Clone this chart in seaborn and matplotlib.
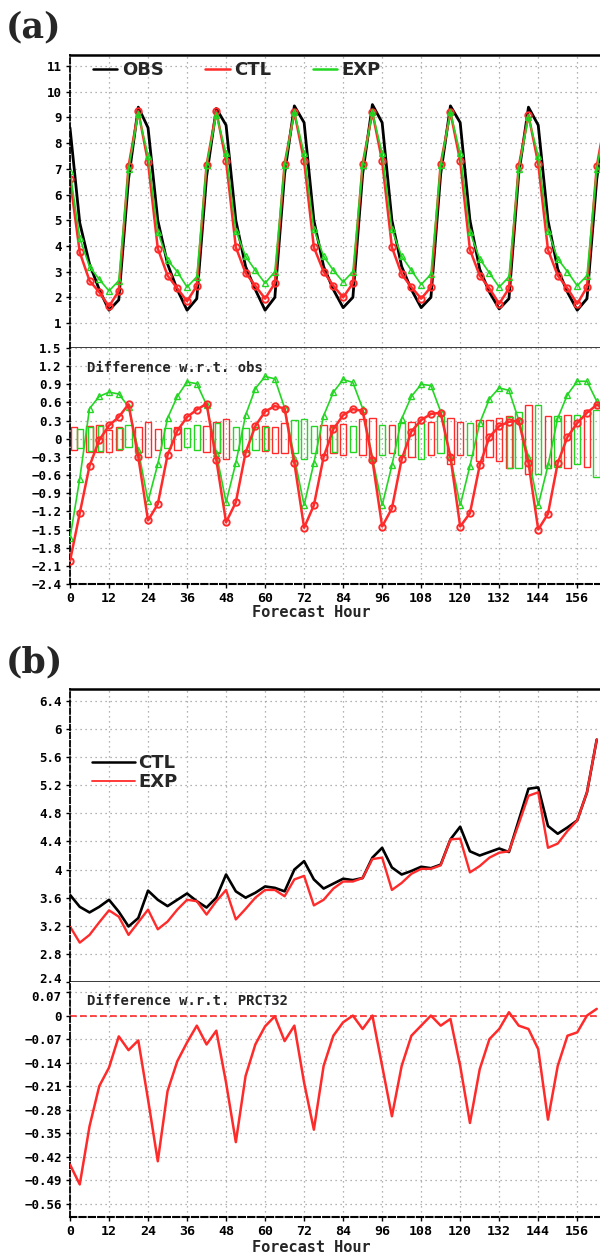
import numpy as np
import pandas as pd
import matplotlib
matplotlib.use("Agg")
import matplotlib.pyplot as plt
from matplotlib.lines import Line2D
from matplotlib.transforms import ScaledTranslation
import seaborn as sns

# ---------------- data: panel (a) ----------------
hours_a = list(range(0, 166, 3))  # 0..165
obs = [8.6, 4.9, 3.3, 2.3, 1.5, 1.9, 6.6, 9.4,
       8.6, 5.0, 3.3, 2.3, 1.5, 1.95, 6.7, 9.35,
       8.7, 5.0, 3.2, 2.3, 1.5, 2.0, 6.8, 9.45,
       8.8, 5.0, 3.2, 2.3, 1.6, 2.0, 6.8, 9.5,
       8.8, 5.0, 3.2, 2.3, 1.6, 2.0, 6.8, 9.45,
       8.8, 5.0, 3.1, 2.2, 1.55, 1.95, 6.8, 9.4,
       8.7, 5.0, 3.1, 2.2, 1.5, 1.95, 6.6, 9.4]
ctl = [6.6, 3.75, 2.65, 2.2, 1.65, 2.25, 7.1, 9.25,
       7.25, 3.9, 2.85, 2.35, 1.85, 2.45, 7.15, 9.25,
       7.3, 3.95, 2.95, 2.45, 1.95, 2.55, 7.2, 9.2,
       7.3, 3.95, 3.0, 2.45, 2.0, 2.55, 7.2, 9.2,
       7.3, 3.95, 2.9, 2.4, 1.95, 2.4, 7.2, 9.2,
       7.3, 3.85, 2.85, 2.35, 1.75, 2.35, 7.1, 9.1,
       7.2, 3.85, 2.85, 2.35, 1.75, 2.4, 7.1, 9.2]
exp = [6.9, 4.3, 3.2, 2.7, 2.25, 2.65, 7.0, 9.15,
       7.5, 4.55, 3.45, 3.0, 2.4, 2.8, 7.15, 9.1,
       7.6, 4.6, 3.6, 3.05, 2.55, 3.0, 7.15, 9.2,
       7.6, 4.65, 3.6, 3.05, 2.6, 3.0, 7.15, 9.2,
       7.6, 4.65, 3.6, 3.05, 2.5, 2.9, 7.15, 9.2,
       7.6, 4.55, 3.5, 2.95, 2.4, 2.8, 7.0, 9.0,
       7.5, 4.6, 3.5, 3.0, 2.45, 2.85, 7.0, 9.1]
diff_ctl = [-2.02, -1.23, -0.45, -0.02, 0.22, 0.36, 0.57, -0.3,
            -1.35, -1.08, -0.27, 0.13, 0.36, 0.48, 0.58, -0.35,
            -1.38, -1.05, -0.23, 0.21, 0.45, 0.54, 0.5, -0.4,
            -1.47, -1.1, -0.3, 0.16, 0.39, 0.49, 0.46, -0.35,
            -1.45, -1.15, -0.34, 0.12, 0.31, 0.41, 0.43, -0.3,
            -1.45, -1.23, -0.44, 0.03, 0.21, 0.28, 0.3, -0.4,
            -1.5, -1.24, -0.4, 0.03, 0.26, 0.43, 0.56, 0.5]
diff_exp = [-1.64, -0.66, 0.5, 0.7, 0.77, 0.74, 0.53, -0.19,
            -1.03, -0.42, 0.34, 0.7, 0.94, 0.91, 0.56, -0.24,
            -1.05, -0.4, 0.39, 0.83, 1.03, 0.99, 0.51, -0.31,
            -1.1, -0.4, 0.38, 0.77, 0.98, 0.93, 0.5, -0.32,
            -1.1, -0.44, 0.33, 0.7, 0.9, 0.88, 0.45, -0.3,
            -1.1, -0.45, 0.26, 0.66, 0.84, 0.8, 0.31, -0.3,
            -1.1, -0.44, 0.34, 0.73, 0.95, 0.95, 0.62, 0.3]

# hollow boxes around zero (one per 3-h step)
box_x = [1.2] + list(range(3, 163, 3))
box_hi = [0.19, 0.16, 0.21, 0.23, 0.14, 0.19, 0.23, 0.19, 0.28, 0.16, 0.17, 0.19,
          0.17, 0.23, 0.21, 0.28, 0.33, 0.19, 0.17, 0.19, 0.21, 0.19, 0.26, 0.31,
          0.33, 0.21, 0.23, 0.23, 0.24, 0.21, 0.33, 0.35, 0.23, 0.23, 0.26, 0.28,
          0.26, 0.28, 0.38, 0.34, 0.28, 0.26, 0.31, 0.31, 0.34, 0.37, 0.45, 0.56,
          0.56, 0.38, 0.37, 0.39, 0.39, 0.48, 0.47]
box_lo = [-0.18, -0.16, -0.22, -0.22, -0.22, -0.19, -0.13, -0.22, -0.3, -0.18, -0.16, -0.19,
          -0.14, -0.19, -0.22, -0.24, -0.34, -0.19, -0.22, -0.19, -0.2, -0.24, -0.24, -0.24,
          -0.34, -0.23, -0.27, -0.24, -0.26, -0.22, -0.27, -0.37, -0.27, -0.24, -0.27, -0.3,
          -0.33, -0.27, -0.24, -0.41, -0.27, -0.27, -0.36, -0.3, -0.36, -0.49, -0.49, -0.58,
          -0.58, -0.49, -0.47, -0.49, -0.41, -0.47, -0.63]
box_col = "rgbbrbgrrrgrggrbrgggbrrg" + "ggrbrgrrgrgrgrgrrgrrrbgrgrgrgrg"

# ---------------- data: panel (b) ----------------
hours_b = list(range(0, 163, 3))  # 0..162
ctl_b = [3.64, 3.47, 3.39, 3.47, 3.57, 3.4, 3.19, 3.31,
         3.7, 3.57, 3.48, 3.57, 3.66, 3.55, 3.46, 3.6,
         3.93, 3.69, 3.6, 3.67, 3.76, 3.74, 3.69, 4.0,
         4.12, 3.86, 3.73, 3.8, 3.87, 3.85, 3.88, 4.17,
         4.31, 4.03, 3.93, 3.98, 4.04, 4.02, 4.07, 4.43,
         4.61, 4.26, 4.2, 4.25, 4.3, 4.25, 4.7, 5.15,
         5.17, 4.62, 4.51, 4.6, 4.7, 5.1, 5.85]
exp_b = [3.19, 2.96, 3.07, 3.25, 3.42, 3.33, 3.07, 3.25,
         3.43, 3.15, 3.26, 3.43, 3.57, 3.55, 3.36, 3.55,
         3.71, 3.29, 3.44, 3.6, 3.71, 3.71, 3.62, 3.86,
         3.91, 3.49, 3.57, 3.73, 3.83, 3.83, 3.88, 4.15,
         4.17, 3.71, 3.81, 3.94, 4.01, 4.01, 4.06, 4.43,
         4.44, 3.96, 4.05, 4.17, 4.24, 4.26, 4.65, 5.05,
         5.1, 4.31, 4.37, 4.55, 4.7, 5.1, 5.85]
diff_b = [-0.444, -0.503, -0.33, -0.21, -0.155, -0.062, -0.103, -0.074,
          -0.25, -0.434, -0.225, -0.136, -0.08, -0.03, -0.086, -0.045,
          -0.2, -0.377, -0.18, -0.086, -0.032, -0.002, -0.076, -0.03,
          -0.2, -0.34, -0.15, -0.06, -0.02, 0.0, -0.04, 0.0,
          -0.15, -0.3, -0.15, -0.06, -0.03, 0.0, -0.03, -0.01,
          -0.15, -0.32, -0.16, -0.07, -0.04, 0.01, -0.03, -0.04,
          -0.1, -0.31, -0.15, -0.06, -0.05, 0.0, 0.02]

xticks = list(range(0, 157, 12))
yt_a1 = list(range(1, 12))
yt_a2 = [1.5, 1.2, 0.9, 0.6, 0.3, 0, -0.3, -0.6, -0.9, -1.2, -1.5, -1.8, -2.1, -2.4]
yt_b1 = [2.4, 2.8, 3.2, 3.6, 4, 4.4, 4.8, 5.2, 5.6, 6, 6.4]
yt_b2 = [0.07, 0, -0.07, -0.14, -0.21, -0.28, -0.35, -0.42, -0.49, -0.56]

RED = "#ff2a2a"
GREEN = "#22d622"

# ---------------- styling ----------------
sns.set_theme(style="white")
plt.rcParams['font.family'] = ['DejaVu Sans Mono', 'DejaVu Sans']
plt.rcParams['axes.unicode_minus'] = True

fig = plt.figure(figsize=(6, 12.56), dpi=100)
L = 70 / 600
W = 1 - L


def fy(py):
    return 1 - py / 1256


ax1 = fig.add_axes([L, fy(348), W, fy(55) - fy(348)])
ax2 = fig.add_axes([L, fy(584), W, fy(348) - fy(584)])
ax3 = fig.add_axes([L, fy(982), W, fy(689) - fy(982)])
ax4 = fig.add_axes([L, fy(1217), W, fy(982) - fy(1217)])

XMAX = 163


def lab(v, nd):
    if abs(v) < 1e-9:
        return "0"
    if nd == 0:
        s = f"{v:g}"
    else:
        s = f"{v:.{nd}f}"
    return s.replace("-", "\u2212")


def style(ax, yticks, ylim, labels, top_solid, bottom_style, show_x):
    ax.set_xlim(0, XMAX)
    ax.set_ylim(*ylim)
    ax.set_xticks(xticks)
    ax.set_yticks(yticks)
    ax.set_yticklabels(labels, fontsize=9, fontweight="bold")
    if show_x:
        ax.set_xticklabels([str(t) for t in xticks], fontsize=9.5, fontweight="bold")
    else:
        ax.set_xticklabels([])
    ax.grid(True, color="#9a9a9a", linestyle=(0, (1, 3)), linewidth=0.9)
    ax.tick_params(axis="y", direction="out", length=3, width=1, pad=3, colors="black", left=True)
    ax.tick_params(axis="x", direction="out", length=3 if show_x else 0, width=1, pad=3,
                   colors="black", bottom=True)
    ax.spines["right"].set_visible(False)
    ax.spines["left"].set_linestyle((0, (3, 1.5)))
    ax.spines["left"].set_linewidth(1.3)
    ax.spines["left"].set_color("black")
    ax.spines["top"].set_color("black")
    ax.spines["top"].set_linewidth(1.8 if top_solid else 0)
    ax.spines["bottom"].set_color("black")
    if bottom_style == "solid":
        ax.spines["bottom"].set_linewidth(1.8)
    else:
        ax.spines["bottom"].set_linestyle((0, (3, 1.5)))
        ax.spines["bottom"].set_linewidth(1.5)
    ax.set_xlabel("")
    ax.set_ylabel("")


# ---------------- panel (a) top ----------------
sns.lineplot(x=hours_a, y=obs, ax=ax1, color="black", linewidth=2.0, legend=False)
sns.lineplot(x=hours_a, y=ctl, ax=ax1, color=RED, linewidth=1.8, marker="o", markersize=4.6,
             markerfacecolor="none", markeredgecolor=RED, markeredgewidth=1.4, legend=False)
sns.lineplot(x=hours_a, y=exp, ax=ax1, color=GREEN, linewidth=1.2, marker="^", markersize=4.5,
             markerfacecolor="none", markeredgecolor=GREEN, markeredgewidth=1.0, legend=False)
style(ax1, yt_a1, (0.03, 11.43), [lab(v, 0) for v in yt_a1], True, "solid", False)
handles = [Line2D([], [], color="black", lw=1.8), Line2D([], [], color=RED, lw=1.8),
           Line2D([], [], color=GREEN, lw=1.8)]
ax1.legend(handles, ["OBS", "CTL", "EXP"], ncol=3, loc="center left",
           bbox_to_anchor=((93 - 70) / 530, (348 - 70) / 293), frameon=False,
           handlelength=1.35, handletextpad=0.25, columnspacing=2.3, borderaxespad=0,
           borderpad=0, prop={"family": "DejaVu Sans", "weight": "bold", "size": 13})

# ---------------- panel (a) bottom ----------------
for x, hi, lo, c in zip(box_x, box_hi, box_lo, box_col):
    if c in "rb":
        ax2.bar(x, hi - lo, bottom=lo, width=2.0, fill=False, edgecolor=RED, linewidth=1.0, zorder=2)
    if c in "gb":
        ax2.bar(x + (0.35 if c == "b" else 0), hi - lo - (0.03 if c == "b" else 0),
                bottom=lo + (0.015 if c == "b" else 0), width=2.0 if c == "g" else 1.6,
                fill=False, edgecolor=GREEN, linewidth=1.0, zorder=2)
sns.lineplot(x=hours_a, y=diff_exp, ax=ax2, color=GREEN, linewidth=1.2, marker="^", markersize=4.5,
             markerfacecolor="none", markeredgecolor=GREEN, markeredgewidth=1.0, legend=False, zorder=3)
sns.lineplot(x=hours_a, y=diff_ctl, ax=ax2, color=RED, linewidth=1.8, marker="o", markersize=4.6,
             markerfacecolor="none", markeredgecolor=RED, markeredgewidth=1.4, legend=False, zorder=4)
style(ax2, yt_a2, (-2.4, 1.5), [lab(v, 1) for v in yt_a2], False, "dashed", True)
ax2.text((87 - 70) / 530, (584 - 368) / 236, "Difference w.r.t. obs", transform=ax2.transAxes,
         fontsize=10, fontweight="bold", va="center", ha="left")

# ---------------- panel (b) top ----------------
sns.lineplot(x=hours_b, y=ctl_b, ax=ax3, color="black", linewidth=1.9, legend=False)
sns.lineplot(x=hours_b, y=exp_b, ax=ax3, color=RED, linewidth=1.7, legend=False)
style(ax3, yt_b1, (2.4, 6.57), [lab(v, 0) for v in yt_b1], True, "solid", False)
handles_b = [Line2D([], [], color="black", lw=1.8), Line2D([], [], color=RED, lw=1.3)]
ax3.legend(handles_b, ["CTL", "EXP"], loc="upper left",
           bbox_to_anchor=((92 - 70) / 530, (982 - 754) / 293), frameon=False,
           handlelength=2.4, handletextpad=0.15, labelspacing=0.05, borderaxespad=0, borderpad=0,
           prop={"family": "DejaVu Sans", "weight": "bold", "size": 13})

# ---------------- panel (b) bottom ----------------
ax4.axhline(0, color=RED, linestyle=(0, (4, 2)), linewidth=1.2, zorder=2)
sns.lineplot(x=hours_b, y=diff_b, ax=ax4, color=RED, linewidth=1.8, legend=False, zorder=3)
style(ax4, yt_b2, (-0.6, 0.1), [lab(v, 2) for v in yt_b2], False, "dashed", True)
ax4.text((87 - 70) / 530, (1217 - 1001) / 235, "Difference w.r.t. PRCT32", transform=ax4.transAxes,
         fontsize=10, fontweight="bold", va="center", ha="left")

# nudge the two labels that meet at the (b) panel boundary apart slightly
fig.canvas.draw()
ax3.get_yticklabels()[0].set_transform(
    ax3.get_yticklabels()[0].get_transform() + ScaledTranslation(0, 3 / 72, fig.dpi_scale_trans))
ax4.get_yticklabels()[0].set_transform(
    ax4.get_yticklabels()[0].get_transform() + ScaledTranslation(0, -3 / 72, fig.dpi_scale_trans))

# ---------------- labels ----------------
fig.text(311 / 600, fy(613), "Forecast Hour", ha="center", va="center", fontsize=11, fontweight="bold")
fig.text(311 / 600, fy(1247), "Forecast Hour", ha="center", va="center", fontsize=11, fontweight="bold")
fig.text(6 / 600, fy(27), "(a)", ha="left", va="center", fontsize=25, fontweight="bold",
         family="DejaVu Serif")
fig.text(6 / 600, fy(662), "(b)", ha="left", va="center", fontsize=25, fontweight="bold",
         family="DejaVu Serif")

fig.savefig("out.png", dpi=100, facecolor="white")
